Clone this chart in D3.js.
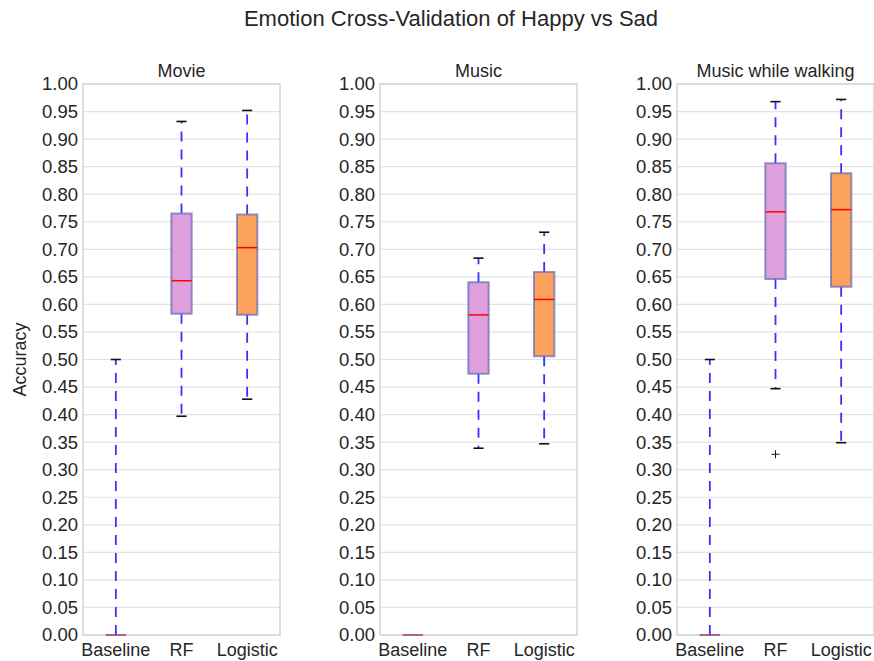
<!DOCTYPE html>
<html>
<head>
<meta charset="utf-8">
<script src="https://cdn.jsdelivr.net/npm/d3@7"></script>
<style>
  body { margin: 0; background: #fff; }
  text { font-family: "Liberation Sans", Arial, sans-serif; fill: #262626; }
</style>
</head>
<body>
<svg id="chart"></svg>
<script>
const panels = ['Movie', 'Music', 'Music while walking'];
const models = ['Baseline', 'RF', 'Logistic'];
const boxColors = ['#dda0dd', '#dda0dd', '#fca25c'];

// per panel, per model: [lower whisker, q1, median, q3, upper whisker]
const movieStats = [
  [0, 0, 0, 0, 0.5],
  [0.397, 0.583, 0.643, 0.765, 0.932],
  [0.428, 0.581, 0.703, 0.763, 0.952]
];
const musicStats = [
  [0, 0, 0, 0, 0],
  [0.339, 0.474, 0.581, 0.640, 0.684],
  [0.347, 0.506, 0.609, 0.659, 0.731]
];
const walkingStats = [
  [0, 0, 0, 0, 0.5],
  [0.447, 0.646, 0.768, 0.856, 0.968],
  [0.349, 0.632, 0.772, 0.838, 0.972]
];
const allStats = [movieStats, musicStats, walkingStats];
// outliers: [panel, model, value]
const outliers = [[2, 1, 0.328]];
const yTicks = d3.range(0, 21).map(i => i * 0.05);

const width = 874, height = 661;
const panelLeft = [83, 380, 677];
const panelWidth = 197;
const plotTop = 84, plotBottom = 635;

const svg = d3.select('#chart').attr('width', width).attr('height', height);

svg.append('text')
  .attr('x', 451).attr('y', 26)
  .attr('text-anchor', 'middle')
  .attr('font-size', '22px')
  .text('Emotion Cross-Validation of Happy vs Sad');

svg.append('text')
  .attr('transform', `translate(26,${(plotTop + plotBottom) / 2}) rotate(-90)`)
  .attr('text-anchor', 'middle')
  .attr('font-size', '18px')
  .text('Accuracy');

const y = d3.scaleLinear().domain([0, 1]).range([plotBottom, plotTop]);

panels.forEach((name, p) => {
  const x = d3.scaleBand()
    .domain(models)
    .range([panelLeft[p], panelLeft[p] + panelWidth])
    .padding(0);
  const bw = x.bandwidth() * 0.31;
  const g = svg.append('g');

  // grid
  g.selectAll('.grid')
    .data(yTicks)
    .enter()
    .append('line')
    .attr('x1', panelLeft[p]).attr('x2', panelLeft[p] + panelWidth)
    .attr('y1', d => y(d)).attr('y2', d => y(d))
    .attr('stroke', '#e3e3e3')
    .attr('stroke-width', 1.2);

  // frame
  g.append('rect')
    .attr('x', panelLeft[p]).attr('y', plotTop)
    .attr('width', panelWidth).attr('height', plotBottom - plotTop)
    .attr('fill', 'none')
    .attr('stroke', '#d4d4d4')
    .attr('stroke-width', 1.5);

  // y axis
  const yAxis = g.append('g')
    .attr('transform', `translate(${panelLeft[p]},0)`)
    .call(d3.axisLeft(y).tickValues(yTicks).tickFormat(d3.format('.2f')).tickSize(0).tickPadding(5));
  yAxis.select('.domain').remove();
  yAxis.selectAll('text').attr('font-size', '18.5px').attr('fill', '#2e2e2e')
    .style('font-family', '"Liberation Sans", Arial, sans-serif');

  // x axis
  const xAxis = g.append('g')
    .attr('transform', `translate(0,${plotBottom})`)
    .call(d3.axisBottom(x).tickSize(0).tickPadding(8));
  xAxis.select('.domain').remove();
  xAxis.selectAll('text').attr('font-size', '18px').attr('fill', '#2e2e2e')
    .style('font-family', '"Liberation Sans", Arial, sans-serif');

  // title
  svg.append('text')
    .attr('x', panelLeft[p] + panelWidth / 2).attr('y', plotTop - 7)
    .attr('text-anchor', 'middle')
    .attr('font-size', '18px')
    .text(name);

  const stats = allStats[p];
  stats.forEach((s, i) => {
    const cx = x(models[i]) + x.bandwidth() / 2;
    const [lo, q1, med, q3, hi] = s;
    const bg = g.append('g');

    // whiskers
    [[q3, hi], [q1, lo]].forEach(([a, b]) => {
      if (a === b) return;
      bg.append('line')
        .attr('x1', cx).attr('x2', cx)
        .attr('y1', y(a)).attr('y2', y(b))
        .attr('stroke', '#3333ff')
        .attr('stroke-width', 1.8)
        .attr('stroke-dasharray', '10,8');
    });

    // caps
    [lo, hi].forEach(v => {
      if (v === 0 && lo === hi) return;
      if (v === lo && lo === q1) return;
      bg.append('line')
        .attr('x1', cx - bw / 4).attr('x2', cx + bw / 4)
        .attr('y1', y(v)).attr('y2', y(v))
        .attr('stroke', '#111')
        .attr('stroke-width', 1.6);
    });

    // box (drawn as a path so a flat box still shows its edge)
    const bx = cx - bw / 2, by = y(q3), bh = y(q1) - y(q3);
    bg.append('path')
      .attr('d', `M${bx},${by}h${bw}v${bh}h${-bw}Z`)
      .attr('fill', boxColors[i])
      .attr('stroke', '#6868b8')
      .attr('stroke-opacity', 0.7)
      .attr('stroke-width', 2);

    // median
    bg.append('line')
      .attr('x1', bx).attr('x2', bx + bw)
      .attr('y1', y(med)).attr('y2', y(med))
      .attr('stroke', '#ff0000')
      .attr('stroke-opacity', q1 === q3 ? 0.4 : 1)
      .attr('stroke-width', 1.5);
  });

  // outliers
  outliers.filter(o => o[0] === p).forEach(o => {
    const cx = x(models[o[1]]) + x.bandwidth() / 2;
    const cy = y(o[2]);
    g.append('path')
      .attr('d', `M${cx - 4},${cy}H${cx + 4}M${cx},${cy - 4}V${cy + 4}`)
      .attr('stroke', '#111')
      .attr('stroke-width', 1);
  });
});
</script>
</body>
</html>
